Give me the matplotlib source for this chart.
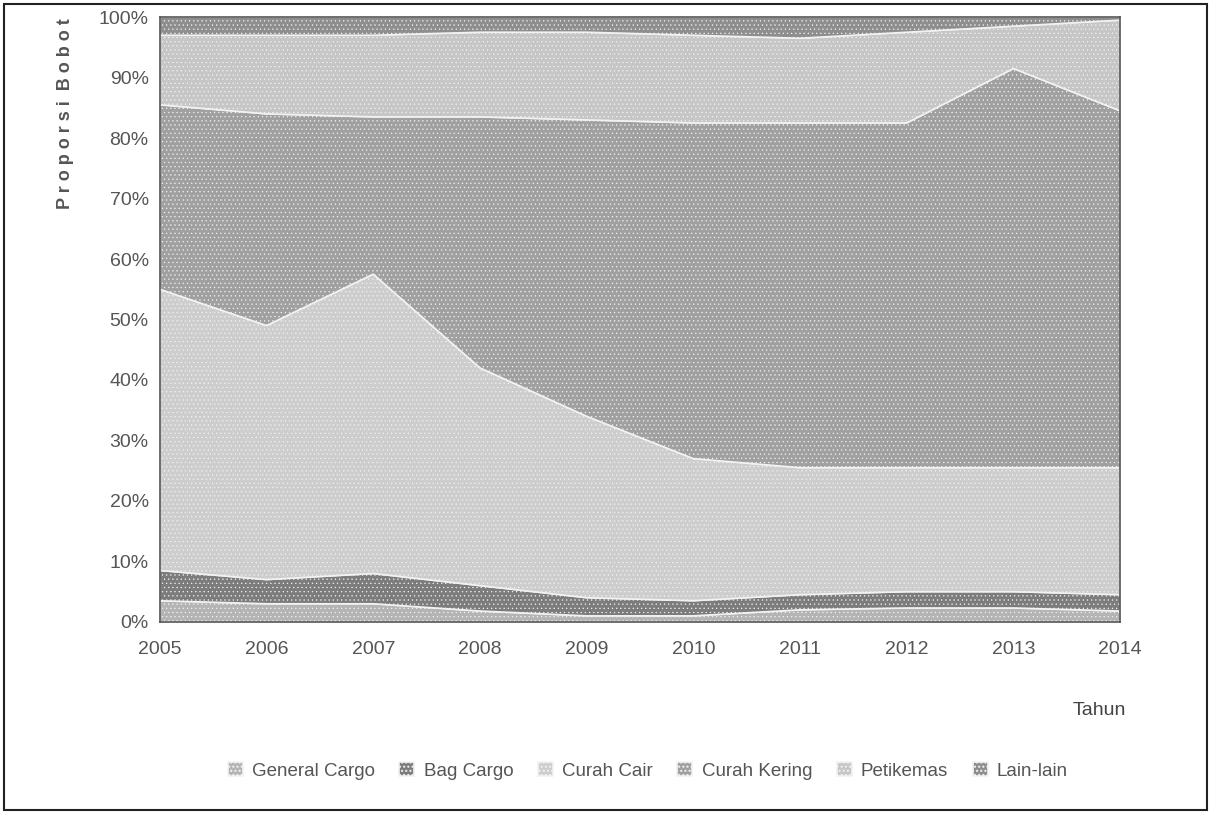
import numpy as np
import matplotlib.pyplot as plt
from matplotlib.patches import Rectangle

plt.rcParams['font.family'] = ['Liberation Sans', 'DejaVu Sans']
plt.rcParams['hatch.color'] = "#8a8a8a"

years = [2005, 2006, 2007, 2008, 2009, 2010, 2011, 2012, 2013, 2014]
labels = ["General Cargo", "Bag Cargo", "Curah Cair", "Curah Kering", "Petikemas", "Lain-lain"]

# cumulative tops (%)
top_general = [3.5, 3.0, 3.0, 1.8, 1.0, 1.0, 2.0, 2.3, 2.3, 1.8]
top_bag = [8.5, 7.0, 8.0, 6.0, 4.0, 3.5, 4.5, 5.0, 5.0, 4.5]
top_cair = [55.0, 49.0, 57.5, 42.0, 34.0, 27.0, 25.5, 25.5, 25.5, 25.5]
top_kering = [85.5, 84.0, 83.5, 83.5, 83.0, 82.5, 82.5, 82.5, 91.5, 84.5]
top_peti = [97.0, 97.0, 97.0, 97.5, 97.5, 97.0, 96.5, 97.5, 98.5, 99.5]
top_lain = [100] * 10

tops = [top_general, top_bag, top_cair, top_kering, top_peti, top_lain]
shares = [np.array(tops[0])] + [np.array(tops[i]) - np.array(tops[i - 1]) for i in range(1, 6)]

colors = ["#b4b4b4", "#7c7c7c", "#cdcdcd", "#a0a0a0", "#c6c6c6", "#8e8e8e"]

fig = plt.figure(figsize=(12.11, 8.14), dpi=100)
fig.patches.append(Rectangle((0.003, 0.005), 0.994, 0.99, transform=fig.transFigure,
                             fill=False, edgecolor="#222222", linewidth=1.5))
ax = fig.add_axes([0.132, 0.236, 0.793, 0.743])

polys = ax.stackplot(years, *shares, labels=labels, colors=colors,
                     edgecolor="#f2f2f2", linewidth=1.2)
for p in polys:
    p.set_hatch("....")
    p.set_hatch_linewidth(0.4)

ax.set_xlim(2005, 2014)
ax.set_ylim(0, 100)
ax.set_xticks(years)
ax.set_yticks(range(0, 101, 10))
ax.set_yticklabels([f"{v}%" for v in range(0, 101, 10)])
ax.tick_params(length=0, labelsize=14, colors="#555555")
ax.tick_params(axis="x", pad=14)
ax.tick_params(axis="y", pad=8)
for s in ax.spines.values():
    s.set_color("#555555")
    s.set_linewidth(1.2)

fig.text(0.054, 0.978, "P r o p o r s i  B o b o t", rotation=90, ha="center", va="top",
         fontsize=13, fontweight="bold", color="#555555")
fig.text(0.93, 0.127, "Tahun", ha="right", va="center", fontsize=14, color="#444444")

fig.legend(loc="center", bbox_to_anchor=(0.535, 0.053), ncol=6, frameon=False,
           fontsize=13.5, handlelength=0.8, handleheight=0.8, columnspacing=1.3,
           handletextpad=0.5, labelcolor="#555555")

fig.savefig("out.png", dpi=100)
